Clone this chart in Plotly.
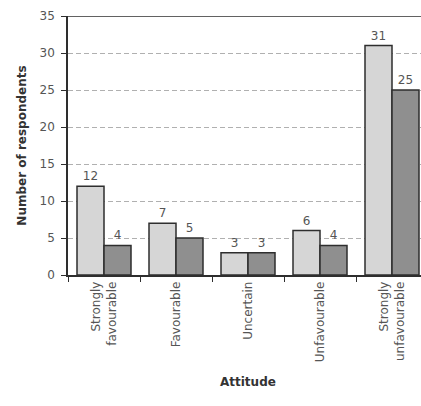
import plotly.graph_objects as go

categories = ["Strongly<br>favourable", "Favourable", "Uncertain", "Unfavourable", "Strongly<br>unfavourable"]
series_a = [12, 7, 3, 6, 31]
series_b = [4, 5, 3, 4, 25]
y_ticks = [0, 5, 10, 15, 20, 25, 30, 35]

edge = "#2e2e2e"
txt = "#555555"
font_family = "DejaVu Sans, Arial, sans-serif"

fig = go.Figure()
fig.add_trace(go.Bar(x=categories, y=series_a, text=series_a, textposition="outside",
                     marker=dict(color="#d6d6d6", line=dict(color=edge, width=1.5)),
                     textfont=dict(size=12, color=txt), cliponaxis=False, showlegend=False))
fig.add_trace(go.Bar(x=categories, y=series_b, text=series_b, textposition="outside",
                     marker=dict(color="#8f8f8f", line=dict(color=edge, width=1.5)),
                     textfont=dict(size=12, color=txt), cliponaxis=False, showlegend=False))

fig.update_layout(
    width=421, height=406,
    margin=dict(l=68, r=0, t=16, b=131),
    paper_bgcolor="white", plot_bgcolor="white",
    barmode="group", bargap=0.25, bargroupgap=0,
    font=dict(family=font_family, size=12, color=txt),
    xaxis=dict(type="category", range=[-0.5, 4.5 - 7/72], tickson="boundaries",
               ticks="outside", ticklen=5, tickwidth=1.2, tickcolor=edge,
               tickangle=-90, showline=True, linecolor=edge, linewidth=1.5,
               showgrid=False, tickfont=dict(size=12, color=txt), fixedrange=True),
    yaxis=dict(range=[0, 35], tickvals=y_ticks, ticks="outside", ticklen=5, tickwidth=1.2,
               tickcolor=edge, showline=True, linecolor=edge, linewidth=1.5,
               showgrid=True, gridcolor="#b0b0b0", gridwidth=1, griddash="5px,3px",
               zeroline=False, tickfont=dict(size=12, color=txt), ticklabelstandoff=4,
               title=dict(text="<b>Number of respondents</b>", font=dict(size=12, color="#333333"), standoff=10)),
    shapes=[dict(type="line", xref="paper", yref="y", x0=0, x1=1, y0=35, y1=35,
                 line=dict(color=edge, width=1.5))],
    annotations=[dict(text="<b>Attitude</b>", xref="x", yref="paper", x=2, y=0,
                      yshift=-116, showarrow=False, font=dict(size=12, color="#333333"))],
)

fig.write_html("out.html", config={"displayModeBar": False},
               post_script="document.body.style.margin='0';document.body.style.overflow='hidden';")
